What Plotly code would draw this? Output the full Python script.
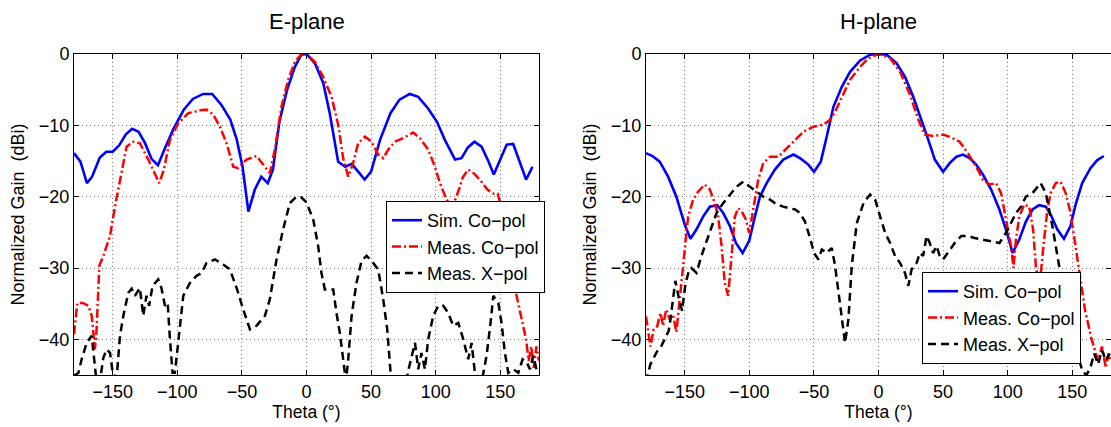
import plotly.graph_objects as go

# ---------------- E-plane data ----------------
e_sim_theta = [-180, -175, -170, -166, -160, -155, -150, -145, -140, -135, -130, -125, -120, -115, -110,
               -103, -95, -88, -80, -73, -66, -59, -54, -49.5, -45, -40, -35, -30, -26, -21, -15, -9, -4, 0,
               6.5, 13, 18, 24.5, 30, 35, 40, 45, 50, 57, 65, 72, 80, 86.5, 94, 101, 107, 115, 120, 125,
               130, 135.5, 141, 145, 150, 155, 160, 165, 170, 175]
e_sim_gain = [-13.9, -15.1, -18.1, -17.2, -14.5, -13.7, -13.7, -12.8, -11.3, -10.5, -10.9, -12.5, -14.7, -15.6,
              -13.4, -10.5, -7.8, -6.3, -5.6, -5.6, -7.1, -9.2, -12.0, -15.8, -22.1, -19.0, -17.2, -18.1, -16.2,
              -9.5, -5.0, -1.8, -0.1, 0, -1.3, -4.1, -8.3, -15.1, -15.8, -15.4, -16.5, -17.6, -16.5, -12.0,
              -8.3, -6.4, -5.6, -6.0, -7.6, -9.5, -12.0, -14.8, -14.6, -13.1, -12.3, -13.0, -15.1, -16.9,
              -14.8, -12.7, -12.6, -15.1, -17.6, -15.8]

e_meas_theta = [-180, -177.4, -173.3, -168.9, -166.3, -163.8, -162.5, -160.4, -157.3, -152.1, -148.3, -144.4,
                -139.3, -134.1, -129, -122.5, -117.8, -114, -110.4, -105.7, -99.3, -91.5, -82.5, -77.4, -72.2,
                -67, -61.9, -56.7, -52.9, -46.4, -38.7, -33.5, -28.4, -24.5, -19.4, -14.2, -9, -3.9, 0, 6.5,
                12.9, 19.4, 24.5, 28.4, 32.3, 36.1, 40, 45.2, 50.4, 55.5, 59.4, 63.3, 68.4, 74.9, 82.6, 87.8,
                94.2, 99.4, 103.3, 108.4, 113, 118, 121, 125.2, 130, 135, 140, 145, 148, 151, 155, 161, 166,
                170, 172, 174, 176, 178, 180]
e_meas_gain = [-39.3, -34.9, -34.9, -35.3, -36.7, -41.4, -38.6, -29.7, -28.3, -25.5, -21.4, -17.6, -13.0, -12.3,
               -12.5, -14.8, -16.5, -18.1, -16.2, -12.0, -9.7, -8.3, -7.9, -7.8, -8.5, -10.2, -12.5, -15.8,
               -16.0, -14.8, -14.3, -15.5, -16.7, -13.4, -7.4, -3.6, -1.1, 0, 0, -1.1, -3.2, -6.0, -9.9,
               -14.6, -17.2, -15.3, -12.5, -11.6, -12.3, -14.1, -14.6, -13.4, -12.3, -11.8, -11.0, -11.8,
               -13.4, -15.8, -18.1, -20.4, -21.5, -19.0, -17.3, -16.2, -16.8, -17.8, -19.0, -19.6, -19.6,
               -21.5, -26.0, -32.5, -36.7, -40.0, -43.0, -41.0, -44.0, -41.0, -43.0]

e_xpol_theta = [-180, -176.6, -174.1, -170.2, -166.3, -164.3, -162.5, -160, -157.3, -154.7, -152.1, -150, -147,
                -144.4, -141.8, -138, -135.4, -132.8, -129, -126.4, -123.9, -121.8, -119.2, -114.8, -112.3,
                -109.6, -107.5, -105.7, -103.7, -101.9, -99.3, -95.4, -90.3, -85.1, -81.2, -77.4, -70.9,
                -64.5, -59.3, -54.1, -49, -43.8, -38.7, -32.2, -28.4, -23.2, -18.1, -12.9, -7.7, -4, 0, 5.2,
                9, 11.6, 14.2, 20.7, 23.2, 25.8, 28.4, 30.5, 32.3, 34.9, 38.7, 42.6, 46.5, 50.4, 55.5, 59.4,
                62.5, 65.1, 70, 76, 79, 84, 86.5, 89, 91.7, 94.2, 98.1, 102, 105.9, 109.7, 113.6, 117.5,
                121.4, 125.2, 127.8, 130.4, 135.6, 139.4, 142.5, 144.6, 148.5, 151, 153.6, 156.2, 160.1, 164,
                167.3, 170.4, 173, 175.6, 178.7]
e_xpol_gain = [-45.1, -44.7, -42.8, -40.5, -39.5, -42.8, -46, -46, -42.6, -41.4, -41.9, -44.7, -45.5, -39.5,
               -36.7, -33.5, -32.9, -33.9, -32.8, -36.7, -33.9, -35.3, -32.5, -31.6, -32.8, -35.3, -34.9, -40,
               -44.7, -44.7, -40, -33.9, -32.1, -31.1, -30.7, -29.3, -28.8, -29.5, -30.2, -32.8, -35.8, -38.6,
               -38.1, -36.7, -34.4, -28.8, -24.6, -20.9, -20.0, -20.1, -20.8, -23.2, -26.9, -30.7, -33, -33,
               -36.3, -39.1, -42.8, -46, -42.8, -36.7, -32.1, -29, -28.3, -29, -30.2, -34.4, -38.6, -44.7,
               -48, -47, -44.2, -40.5, -44.2, -41.9, -44.2, -40, -36.7, -35.3, -35.3, -36.3, -38.1, -37.7,
               -40, -42.8, -40.5, -44.7, -46, -42.3, -37.7, -33.9, -34.9, -37.7, -41.9, -44.7, -44.2, -44.7,
               -42.8, -43.2, -44.2, -42.3, -44.7]

# ---------------- H-plane data ----------------
h_sim_theta = [-180, -175, -169.4, -162.9, -156.5, -150, -145.6, -141, -135.8, -130.6, -124.9, -120.2, -115.1,
               -110.4, -105.2, -100.1, -95.7, -91.8, -86.6, -80.2, -73.7, -65.9, -60.8, -54.3, -49.9, -44.7,
               -40.1, -34.9, -28.4, -22, -14.2, -6.5, 0, 6.4, 14.1, 20.5, 26.9, 33.3, 38.5, 43.6, 50, 55.1,
               60.3, 65.4, 70.5, 75.6, 80.8, 87.2, 93.6, 98.7, 103.8, 109, 114.1, 119.2, 124.4, 129.5, 133.3,
               138.5, 143.6, 148.7, 152.6, 157.7, 164.1, 169.2, 174.4]
h_sim_gain = [-13.9, -14.3, -15.1, -17.2, -20.0, -23.9, -25.9, -24.6, -22.8, -21.4, -21.2, -22.3, -24.1, -26.5,
              -27.9, -26.2, -22.8, -20.0, -18.1, -16.2, -14.8, -14.1, -14.6, -15.5, -16.5, -15.1, -11.6, -7.4,
              -4.6, -2.5, -0.9, -0.1, 0, -0.1, -1.3, -3.2, -6.0, -9.2, -12.0, -14.8, -16.5, -15.3, -14.4,
              -14.1, -14.6, -15.5, -16.9, -19.0, -21.8, -24.6, -27.9, -26.0, -23.5, -21.8, -21.2, -21.4,
              -22.5, -24.6, -25.9, -24.1, -21.1, -18.1, -16.0, -14.9, -14.3]

h_meas_theta = [-180, -178.7, -176.6, -174, -171.4, -168.8, -166.8, -164.3, -161.7, -159.1, -156.5, -153.9,
                -150, -147.4, -143.5, -139.7, -134.5, -130.6, -126.7, -124.1, -121.5, -119, -116.4, -113.8,
                -111.2, -108.6, -105.2, -102.7, -100.1, -97, -93.1, -89.2, -84, -77.6, -72.4, -65.9, -58.2,
                -50.4, -42.7, -37.5, -33.6, -28.4, -22, -14.2, -7.8, 0, 9, 16.7, 24.4, 30.8, 35.9, 42.3, 50,
                56.4, 62.8, 69.2, 75.6, 80.8, 85.9, 91, 94.9, 98.7, 102.6, 104.5, 106.4, 109, 112.8, 116.7,
                119.7, 122, 125, 128.2, 130.8, 133.3, 137.2, 141, 144.9, 148.7, 152.6, 155.1, 160, 165, 170,
                173, 176, 178, 180]
h_meas_gain = [-36.8, -38.6, -41.0, -38.6, -38.2, -36.3, -38.1, -35.8, -37.2, -36.5, -39.0, -34.4, -27.9, -22.8,
               -20.4, -19.3, -18.3, -19.0, -20.9, -22.8, -26.9, -32.1, -33.9, -27.9, -22.8, -21.6, -22.3, -23.2,
               -25.1, -21.8, -17.6, -15.3, -14.4, -14.4, -13.4, -12.3, -10.9, -10.2, -9.9, -9.2, -8.1, -6.0,
               -3.6, -1.8, -0.6, 0, -0.6, -2.5, -5.7, -9.2, -11.3, -11.5, -11.3, -11.7, -12.3, -13.9, -15.8,
               -17.6, -18.3, -18.1, -19.5, -23.2, -26.9, -30.0, -26.0, -22.8, -21.1, -21.4, -24.6, -30.2,
               -32.0, -26.0, -21.8, -19.5, -18.1, -17.9, -19.5, -22.3, -26.9, -30.2, -36.0, -40.0, -43.0,
               -41.0, -44.0, -42.0, -43.0]

h_xpol_theta = [-180, -178.7, -176.6, -174, -171.4, -168.8, -166.3, -162.4, -161.2, -158.6, -157.3, -154.7,
                -152.1, -149.5, -147, -144.8, -140.9, -137.1, -133.2, -129.3, -125.4, -120.2, -115.1, -109.9,
                -104.7, -99.6, -94.4, -89.2, -84, -78.9, -73.7, -69.8, -64.6, -60.8, -56.9, -53, -49.9, -46.5,
                -43.9, -40.1, -36.2, -33.6, -31, -28.4, -25.9, -23.3, -20.7, -16.8, -11.6, -6.5, -2.6, 1.3,
                5.2, 9, 12.8, 16.7, 20.5, 23.1, 25.6, 29.5, 32, 34.6, 37.2, 39.7, 42.3, 44.9, 47.4, 50, 53.8,
                59, 64.1, 69.2, 74.4, 80.8, 87.2, 93.6, 98.7, 102.6, 106.4, 110.3, 114.1, 119.2, 123.1, 125.6,
                129.5, 132.1, 134.6, 137.2, 139.7, 143, 147, 152, 155.1, 158, 161, 164, 167, 170, 173, 176, 179]
h_xpol_gain = [-46, -45, -43.5, -42.6, -41.7, -41.2, -40.2, -38.8, -37.4, -33.7, -31.8, -34.1, -36, -32.3, -30.5,
               -30, -30.7, -28.3, -26.2, -24.1, -22.3, -20.9, -19.7, -18.6, -17.9, -18.6, -19.3, -20, -20.4,
               -21.1, -21.4, -21.6, -21.8, -22.3, -23.5, -25.8, -27.9, -28.8, -27.4, -27.9, -27.2, -29.7,
               -33.5, -37.7, -40.5, -37.2, -29.7, -23.7, -20.9, -19.7, -20.4, -22.8, -25.1, -26.5, -28.3,
               -29.3, -30.7, -32.5, -30.2, -29.3, -27.9, -28.3, -25.5, -26.5, -27.9, -26.9, -28.3, -28.8,
               -27.9, -26.5, -25.5, -25.5, -25.8, -26, -26.2, -26.5, -25.1, -23.7, -22.3, -21.4, -20, -19.5,
               -18.6, -18.1, -19.5, -21.8, -24.1, -26.9, -29.7, -33, -37, -41, -42.8, -44.5, -45, -44, -42,
               -43.5, -41.5, -43, -42]

series_names = ["Sim. Co\u2212pol", "Meas. Co\u2212pol", "Meas. X\u2212pol"]
panel_titles = ["E-plane", "H-plane"]
x_ticks = [-150, -100, -50, 0, 50, 100, 150]
y_ticks = [-40, -30, -20, -10, 0]

W, H = 1111, 427
FONT = "Liberation Sans, Arial, Helvetica, sans-serif"

styles = [
    dict(color="#0000ff", width=2.6, dash="solid"),
    dict(color="#ff0000", width=2.5, dash="9px,3px,2px,3px"),
    dict(color="#000000", width=2.5, dash="8px,5px"),
]

fig = go.Figure()
panels = [
    (e_sim_theta, e_sim_gain, e_meas_theta, e_meas_gain, e_xpol_theta, e_xpol_gain),
    (h_sim_theta, h_sim_gain, h_meas_theta, h_meas_gain, h_xpol_theta, h_xpol_gain),
]
for p, data in enumerate(panels):
    xa = "x" if p == 0 else "x2"
    ya = "y" if p == 0 else "y2"
    lg = "legend" if p == 0 else "legend2"
    for k in range(3):
        fig.add_trace(go.Scatter(
            x=data[2 * k], y=data[2 * k + 1], mode="lines", name=series_names[k],
            line=styles[k], xaxis=xa, yaxis=ya, legend=lg,
        ))

x_domains = [[74 / W, 539 / W], [646 / W, 1.0]]
y_domain = [1 - 375 / H, 1 - 54 / H]

axis_common = dict(
    showline=True, linecolor="black", linewidth=1, mirror="ticks",
    ticks="inside", ticklen=5, tickcolor="black", tickwidth=1,
    showgrid=True, gridcolor="#7a7a7a", gridwidth=1, griddash="1px,3px",
    zeroline=False, automargin=False,
    tickfont=dict(family=FONT, size=18, color="black"),
)

layout = dict(
    width=W, height=H, margin=dict(l=0, r=0, t=0, b=0),
    paper_bgcolor="white", plot_bgcolor="white",
    font=dict(family=FONT, size=17, color="black"),
    showlegend=True,
)
for p in range(2):
    sx = "" if p == 0 else "2"
    layout["xaxis" + sx] = dict(
        axis_common, domain=x_domains[p], range=[-180, 180], tickvals=x_ticks,
        anchor="y" + sx,
        title=dict(text="Theta (°)", font=dict(family=FONT, size=17.5), standoff=2),
    )
    layout["yaxis" + sx] = dict(
        axis_common, domain=y_domain, range=[-45, 0], tickvals=y_ticks,
        anchor="x" + sx,
        title=dict(text="Normalized Gain\u00a0 (dBi)", font=dict(family=FONT, size=18), standoff=9),
    )

legend_common = dict(
    xanchor="left", yanchor="top", bgcolor="white", bordercolor="black", borderwidth=1,
    font=dict(family=FONT, size=18, color="black"), traceorder="normal",
)
layout["legend"] = dict(legend_common, x=386 / W, y=1 - 201 / H)
layout["legend2"] = dict(legend_common, x=922 / W, y=1 - 272 / H)

layout["annotations"] = [
    dict(text=panel_titles[p], xref="paper", yref="paper",
         x=(x_domains[p][0] + x_domains[p][1]) / 2, y=1 - 21 / H,
         xanchor="center", yanchor="middle", showarrow=False,
         font=dict(family=FONT, size=22, color="black"))
    for p in range(2)
]

fig.update_layout(**layout)
fig.write_html("out.html", config={"displayModeBar": False},
               post_script="document.body.style.margin='0';")
